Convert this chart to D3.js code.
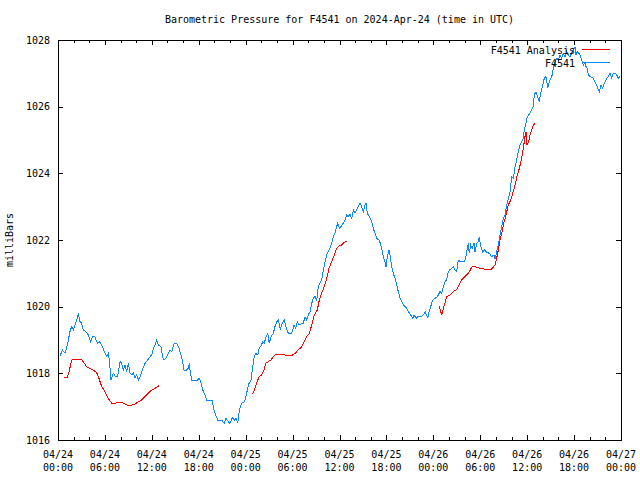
<!DOCTYPE html>
<html><head><meta charset="utf-8">
<script src="https://cdn.jsdelivr.net/npm/d3@7"></script>
<style>
body{margin:0;background:#fff}
text{font-family:"DejaVu Sans Mono","Liberation Mono",monospace;font-size:10px;fill:#000}
</style>
</head><body><svg id="c" width="640" height="480"></svg>
<script>
// hours since 2024-04-24 00:00 UTC, pressure in mb
const stationSeries=[[0.26,1018.52],[0.55,1018.7],[0.90,1018.6],[1.24,1018.9],[1.53,1019.25],[1.75,1019.4],[1.96,1019.3],[2.17,1019.45],[2.39,1019.6],[2.60,1019.8],[2.81,1019.55],[3.03,1019.5],[3.24,1019.3],[3.54,1019.25],[3.88,1019.15],[4.18,1018.95],[4.39,1019.1],[4.73,1019.1],[5.03,1018.9],[5.37,1018.95],[5.67,1018.8],[6.01,1018.6],[6.23,1018.5],[6.43,1018.6],[6.56,1018.4],[6.78,1017.8],[7.07,1018.0],[7.38,1017.9],[7.64,1017.92],[7.93,1018.35],[8.15,1018.3],[8.35,1018.1],[8.57,1018.25],[8.79,1018.05],[8.99,1018.3],[9.21,1018.0],[9.43,1017.95],[9.63,1018.02],[9.85,1017.85],[10.06,1017.95],[10.27,1017.8],[10.49,1017.9],[10.78,1018.1],[11.13,1018.3],[11.47,1018.4],[11.77,1018.5],[11.98,1018.55],[12.19,1018.75],[12.41,1018.85],[12.62,1019.0],[12.83,1018.85],[13.17,1018.8],[13.34,1018.55],[13.47,1018.4],[13.77,1018.45],[14.11,1018.6],[14.32,1018.7],[14.54,1018.65],[14.87,1018.9],[15.18,1018.9],[15.48,1018.75],[15.73,1018.55],[15.95,1018.35],[16.11,1018.1],[16.46,1018.1],[16.66,1018.15],[16.79,1018.3],[16.88,1018.1],[17.10,1017.8],[17.52,1017.8],[17.87,1017.8],[18.03,1017.85],[18.25,1017.75],[18.45,1017.55],[18.67,1017.4],[18.80,1017.35],[19.02,1017.2],[19.44,1017.2],[19.73,1017.18],[19.95,1016.9],[20.17,1016.75],[20.42,1016.6],[20.93,1016.6],[21.27,1016.5],[21.49,1016.65],[21.78,1016.55],[22.00,1016.5],[22.29,1016.67],[22.55,1016.6],[22.76,1016.65],[22.98,1016.5],[23.19,1016.9],[23.49,1017.1],[23.83,1017.14],[24.04,1017.3],[24.21,1017.5],[24.43,1017.7],[24.68,1017.78],[24.85,1018.1],[25.06,1018.45],[25.28,1018.6],[25.54,1018.55],[25.74,1018.75],[25.96,1018.82],[26.18,1018.95],[26.38,1018.9],[26.60,1019.1],[26.82,1019.2],[27.02,1018.9],[27.24,1019.1],[27.53,1019.2],[27.75,1019.4],[27.97,1019.55],[28.17,1019.6],[28.43,1019.32],[28.69,1019.5],[28.94,1019.6],[29.16,1019.4],[29.45,1019.2],[29.89,1019.2],[30.18,1019.45],[30.40,1019.35],[30.60,1019.55],[30.86,1019.45],[31.17,1019.5],[31.37,1019.5],[31.59,1019.7],[31.81,1019.6],[32.01,1019.75],[32.23,1019.85],[32.45,1020.1],[32.65,1020.25],[32.87,1020.3],[33.09,1020.2],[33.29,1020.6],[33.51,1020.7],[33.72,1020.8],[33.93,1021.1],[34.15,1021.35],[34.36,1021.55],[34.57,1021.65],[34.79,1021.75],[35.00,1021.9],[35.21,1022.1],[35.43,1022.2],[35.64,1022.4],[35.77,1022.5],[35.98,1022.35],[36.28,1022.42],[36.58,1022.55],[36.70,1022.6],[36.92,1022.75],[37.13,1022.7],[37.34,1022.78],[37.56,1022.65],[37.77,1022.9],[37.98,1022.82],[38.20,1022.9],[38.41,1023.0],[38.62,1023.1],[38.84,1023.0],[39.05,1022.85],[39.26,1023.05],[39.39,1023.1],[39.56,1022.8],[39.81,1022.7],[40.12,1022.55],[40.32,1022.35],[40.54,1022.2],[40.84,1022.02],[41.09,1022.0],[41.40,1021.75],[41.60,1021.5],[41.82,1021.35],[41.95,1021.2],[42.11,1021.5],[42.33,1021.7],[42.46,1021.55],[42.68,1021.2],[42.88,1021.0],[43.10,1020.85],[43.32,1020.65],[43.52,1020.45],[43.74,1020.25],[43.96,1020.15],[44.16,1020.05],[44.38,1020.0],[44.60,1019.95],[44.80,1019.85],[45.11,1019.75],[45.36,1019.65],[45.53,1019.75],[45.79,1019.65],[46.08,1019.72],[46.51,1019.72],[46.72,1019.75],[46.94,1019.85],[47.15,1019.75],[47.28,1019.65],[47.45,1019.85],[47.66,1020.0],[47.92,1020.2],[48.21,1020.25],[48.43,1020.28],[48.64,1020.35],[48.85,1020.45],[49.07,1020.4],[49.28,1020.6],[49.49,1020.75],[49.71,1020.8],[49.79,1020.95],[50.04,1021.1],[50.35,1021.15],[50.55,1021.2],[50.77,1021.1],[50.99,1021.05],[51.19,1021.4],[51.41,1021.35],[51.92,1021.35],[52.14,1021.45],[52.34,1021.75],[52.47,1021.9],[52.60,1021.6],[52.78,1021.85],[52.98,1021.75],[53.20,1021.9],[53.33,1021.65],[53.55,1021.9],[53.75,1021.95],[53.88,1022.1],[54.06,1021.8],[54.31,1021.65],[54.52,1021.7],[54.74,1021.65],[54.95,1021.62],[55.16,1021.6],[55.46,1021.5],[55.76,1021.55],[55.89,1021.43],[56.10,1021.65],[56.31,1021.85],[56.53,1022.15],[56.75,1022.4],[56.95,1022.65],[57.17,1022.75],[57.39,1023.05],[57.59,1023.25],[57.81,1023.45],[58.02,1023.9],[58.23,1023.85],[58.45,1024.2],[58.66,1024.4],[58.87,1024.65],[59.08,1024.85],[59.30,1024.95],[59.51,1025.05],[59.63,1025.3],[59.81,1025.45],[59.94,1025.65],[60.15,1025.75],[60.36,1025.8],[60.58,1025.9],[60.79,1026.0],[60.91,1026.35],[61.13,1026.45],[61.35,1026.3],[61.55,1026.15],[61.77,1026.45],[61.99,1026.65],[62.19,1026.85],[62.41,1026.9],[62.63,1026.55],[62.83,1026.75],[63.01,1026.85],[63.21,1026.95],[63.34,1027.15],[63.56,1027.35],[63.78,1027.45],[63.98,1027.4],[64.20,1027.55],[64.42,1027.45],[64.62,1027.6],[64.84,1027.5],[65.05,1027.65],[65.26,1027.55],[65.47,1027.5],[65.69,1027.6],[65.90,1027.7],[66.12,1027.8],[66.24,1027.55],[66.41,1027.65],[66.63,1027.6],[66.76,1027.55],[66.97,1027.4],[67.18,1027.25],[67.40,1027.35],[67.53,1027.2],[67.69,1027.15],[67.82,1026.95],[68.04,1026.9],[68.46,1026.85],[68.68,1026.75],[68.89,1026.65],[69.10,1026.5],[69.23,1026.45],[69.45,1026.65],[69.66,1026.55],[69.87,1026.7],[70.17,1026.85],[70.38,1026.9],[70.60,1027.0],[70.81,1026.85],[71.02,1027.0],[71.24,1027.0],[71.45,1026.95],[71.66,1026.85],[71.88,1026.9]];

const analysisRun1=[[0.81,1017.88],[1.19,1017.88],[1.41,1018.05],[1.66,1018.3],[1.83,1018.42],[3.03,1018.42],[3.36,1018.3],[3.67,1018.2],[4.09,1018.15],[4.51,1018.1],[4.95,1018.02],[5.24,1017.85],[5.59,1017.6],[6.01,1017.45],[6.43,1017.25],[6.87,1017.1],[7.29,1017.1],[7.71,1017.13],[8.15,1017.13],[8.79,1017.05],[9.43,1017.05],[9.85,1017.08],[10.27,1017.15],[10.70,1017.2],[11.13,1017.3],[11.55,1017.4],[11.98,1017.5],[12.41,1017.55],[12.96,1017.64]];
const analysisRun2=[[24.85,1017.38],[25.11,1017.5],[25.41,1017.7],[25.71,1017.9],[26.05,1017.95],[26.34,1018.1],[26.56,1018.3],[26.89,1018.35],[27.24,1018.4],[27.53,1018.5],[27.84,1018.58],[28.39,1018.58],[29.03,1018.55],[29.89,1018.53],[30.31,1018.6],[30.73,1018.7],[31.17,1018.8],[31.46,1018.95],[31.81,1019.1],[32.14,1019.2],[32.45,1019.45],[32.78,1019.75],[33.16,1019.9],[33.42,1020.2],[33.72,1020.4],[34.05,1020.6],[34.36,1020.85],[34.66,1021.15],[35.00,1021.35],[35.34,1021.55],[35.64,1021.75],[35.94,1021.82],[36.28,1021.85],[36.58,1021.93],[37.00,1021.97]];
const analysisRun3=[[48.76,1020.02],[49.07,1019.75],[49.28,1019.95],[49.49,1020.1],[49.71,1020.3],[50.13,1020.35],[50.55,1020.45],[50.99,1020.52],[51.28,1020.65],[51.63,1020.8],[51.92,1020.88],[52.27,1020.95],[52.60,1021.05],[52.91,1021.18],[53.11,1021.22],[53.55,1021.18],[53.97,1021.15],[54.39,1021.14],[54.82,1021.1],[55.46,1021.13],[55.89,1021.25],[56.10,1021.45],[56.31,1021.7],[56.53,1022.0],[56.75,1022.2],[56.95,1022.45],[57.29,1022.75],[57.59,1023.05],[57.90,1023.2],[58.15,1023.4],[58.45,1023.65],[58.74,1023.95],[59.00,1024.15],[59.30,1024.45],[59.51,1024.75],[59.72,1025.1],[59.85,1025.25],[59.98,1024.85],[60.20,1024.95],[60.36,1025.15],[60.58,1025.3],[60.79,1025.45],[61.00,1025.5]];

const yTicks=[1016,1018,1020,1022,1024,1026,1028];
const xTickHours=[0,6,12,18,24,30,36,42,48,54,60,66,72];
const xMinorHours=[2,4,8,10,14,16,20,22,26,28,32,34,38,40,44,46,50,52,56,58,62,64,68,70];
const titleText="Barometric Pressure for F4541 on 2024-Apr-24 (time in UTC)";
const yLabelText="milliBars";
const seriesNames=["F4541 Analysis","F4541"];
const seriesColors=["#ff0000","#0f86ff"];

const t0=Date.UTC(2024,3,24);
const toDate=h=>new Date(t0+h*3600e3);
const L=58,R=621,T=40,B=440;
const x=d3.scaleUtc().domain([toDate(0),toDate(72)]).range([L,R]);
const y=d3.scaleLinear().domain([1016,1028]).range([B,T]);

const svg=d3.select("#c");
svg.append("rect").attr("width",640).attr("height",480).attr("fill","#fff");

function styleAxis(g){g.select(".domain").remove();g.selectAll("line").attr("stroke","#000").attr("shape-rendering","crispEdges");}
const major=xTickHours.map(toDate), minor=xMinorHours.map(toDate);
svg.append("g").attr("transform",`translate(0,${B})`).call(d3.axisBottom(x).tickValues(major).tickSize(-5).tickFormat("")).call(styleAxis);
svg.append("g").attr("transform",`translate(0,${B})`).call(d3.axisBottom(x).tickValues(minor).tickSize(-3).tickFormat("")).call(styleAxis);
svg.append("g").attr("transform",`translate(0,${T})`).call(d3.axisTop(x).tickValues(major).tickSize(-5).tickFormat("")).call(styleAxis);
svg.append("g").attr("transform",`translate(0,${T})`).call(d3.axisTop(x).tickValues(minor).tickSize(-3).tickFormat("")).call(styleAxis);
svg.append("g").attr("transform",`translate(${L},0)`).call(d3.axisLeft(y).tickValues(yTicks).tickSize(-5).tickPadding(8).tickFormat(d3.format("d"))).call(styleAxis)
  .selectAll("text").attr("fill","#000").style("font-size","10px").style("font-family",'"DejaVu Sans Mono",monospace');
svg.append("g").attr("transform",`translate(${R},0)`).call(d3.axisRight(y).tickValues(yTicks).tickSize(-5).tickFormat("")).call(styleAxis);

const fmtD=d3.utcFormat("%m/%d"), fmtT=d3.utcFormat("%H:%M");
const xl=svg.append("g");
major.forEach(d=>{
  const t=xl.append("text").attr("x",x(d)).attr("text-anchor","middle");
  t.append("tspan").attr("x",x(d)).attr("y",458).text(fmtD(d));
  t.append("tspan").attr("x",x(d)).attr("y",471).text(fmtT(d));
});

svg.append("rect").attr("x",L+0.5).attr("y",T+0.5).attr("width",R-L).attr("height",B-T)
  .attr("fill","none").attr("stroke","#000").attr("shape-rendering","crispEdges");

const line=d3.line().x(d=>x(toDate(d[0]))).y(d=>y(d[1]));
[analysisRun1,analysisRun2,analysisRun3].forEach(run=>{
  svg.append("path").datum(run).attr("d",line).attr("fill","none").attr("stroke",seriesColors[0]).attr("stroke-width",1).attr("shape-rendering","crispEdges");
});
svg.append("path").datum(stationSeries).attr("d",line).attr("fill","none").attr("stroke",seriesColors[1]).attr("stroke-width",1).attr("shape-rendering","crispEdges");

svg.append("text").attr("x",(L+R)/2).attr("y",23).attr("text-anchor","middle").text(titleText);
svg.append("text").attr("transform","translate(13,240) rotate(-90)").attr("text-anchor","middle").text(yLabelText);

// legend
seriesNames.forEach((n,i)=>{
  const cy=50+i*13;
  svg.append("text").attr("x",575).attr("y",cy+3.5).attr("text-anchor","end").text(n);
  svg.append("line").attr("x1",582).attr("x2",610).attr("y1",cy-0.5).attr("y2",cy-0.5).attr("stroke",seriesColors[i]).attr("stroke-width",1).attr("shape-rendering","crispEdges");
});
</script></body></html>
